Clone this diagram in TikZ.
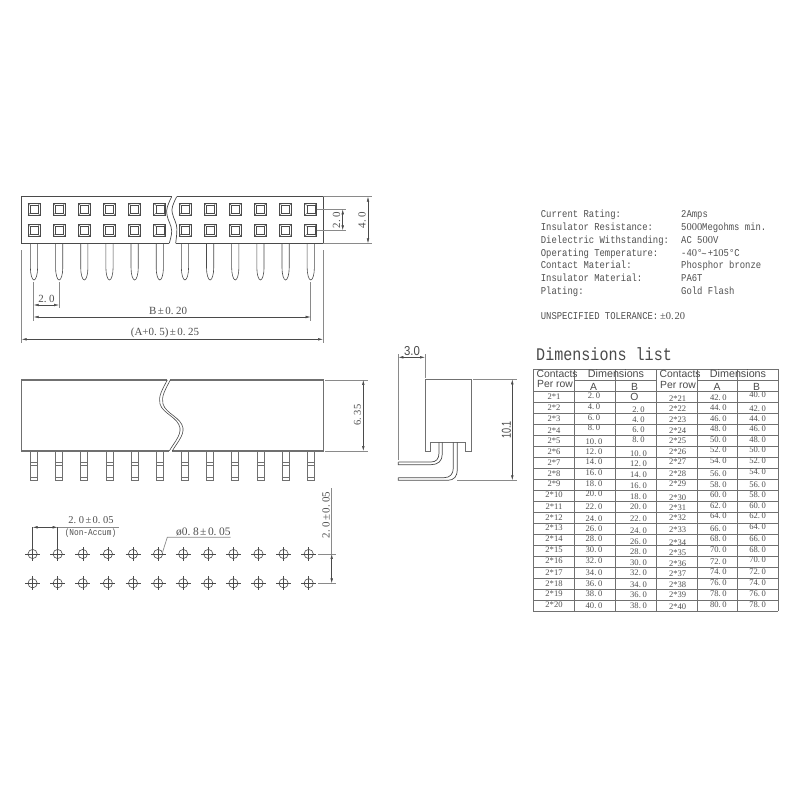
\documentclass[tikz,border=0pt]{standalone}
\usepackage{fontspec}
\usetikzlibrary{arrows.meta}
\newfontfamily\specfont[FakeStretch=0.85]{Liberation Mono}
\newfontfamily\numfont{Liberation Serif}
\newfontfamily\hdrfont{Liberation Sans}
\newfontfamily\narrowa[FakeStretch=0.88]{Liberation Sans}
\newfontfamily\narrowb[FakeStretch=0.7]{Liberation Sans}
\newcommand{\pmsign}{\kern1.5pt±\kern1.5pt}
\newcommand{\dotk}{.\kern2.5pt}
\newcommand{\zerok}{{\numfont 0}}
\def\cellnum#1.#2\relax{#1.\kern1.6pt #2}
\definecolor{ink}{HTML}{4A4A4A}
\definecolor{heavy}{HTML}{707070}
\definecolor{thin}{HTML}{8A8A8A}
\definecolor{txt}{HTML}{505050}
\tikzset{
  outline/.style={draw=ink,line width=0.7pt},
  bodyline/.style={draw=heavy,line width=1.2pt},
  extline/.style={draw=thin,line width=0.7pt},
  dimline/.style={draw=ink,line width=0.5pt,{Latex[length=5pt,width=2.6pt]}-{Latex[length=5pt,width=2.6pt]}},
  gridline/.style={draw=heavy,line width=0.9pt},
  lbl/.style={text=txt,inner sep=0pt,font=\numfont\fontsize{11}{11}\selectfont},
  spec/.style={text=txt,inner sep=0pt,anchor=base west,font=\specfont\fontsize{10.5}{11}\selectfont},
  cell/.style={text=txt,inner sep=0pt,font=\numfont\fontsize{8.6}{9}\selectfont},
  hdr/.style={text=ink,inner sep=0pt,font=\hdrfont\fontsize{10.4}{11}\selectfont},
}
\begin{document}
\begin{tikzpicture}[x=1bp,y=-1bp]
\useasboundingbox (0,0) rectangle (800,800);
\fill[white] (0,0) rectangle (800,800);
% ---------- top view
\draw[outline] (171.7,196.7) -- (21.7,196.7) -- (21.7,243.3) -- (169.3,243.3);
\draw[outline] (176.7,196.7) -- (323,196.7) -- (323,243.3) -- (175.7,243.3);
\draw[outline] (171.7,196.7) .. controls (168,204) and (165.5,210) .. (167,215) .. controls (168,221) and (171.5,225) .. (171.7,231) .. controls (171.7,236) and (170,240) .. (169.3,243.3);
\draw[outline] (176.7,196.7) .. controls (173,204) and (171,209) .. (172.3,213) .. controls (173.5,219) and (177,223) .. (176.9,229) .. controls (176.9,235) and (176,240) .. (175.7,243.3);
\foreach \i in {0,...,11}{
  \pgfmathsetmacro{\cx}{34+25.16*\i}
  \foreach \cy in {209.3,230.3}{
    \draw[outline,line width=0.8pt] (\cx-6,\cy-6) rectangle (\cx+6,\cy+6);
    \draw[ink,line width=0.5pt] (\cx-4,\cy-4) rectangle (\cx+4,\cy+4);
    \draw[ink,line width=0.4pt] (\cx-6,\cy-6) -- (\cx-4,\cy-4) (\cx+6,\cy-6) -- (\cx+4,\cy-4) (\cx-6,\cy+6) -- (\cx-4,\cy+4) (\cx+6,\cy+6) -- (\cx+4,\cy+4);
  }
  \draw[outline,line width=0.6pt] (\cx-3.6,243.3) -- (\cx-3.6,268) .. controls (\cx-3.6,274) and (\cx-2,280) .. (\cx,280) .. controls (\cx+2,280) and (\cx+3.6,274) .. (\cx+3.6,268) -- (\cx+3.6,243.3);
}
% dims of the top view
\draw[extline] (21.7,250) -- (21.7,343);
\draw[extline] (323,250) -- (323,343);
\draw[extline] (33.7,282) -- (33.7,321);
\draw[extline] (59,282) -- (59,308);
\draw[extline] (310.7,282) -- (310.7,321);
\draw[dimline] (21.7,339.3) -- (323,339.3);
\draw[dimline] (33.7,317) -- (310.7,317);
\draw[dimline] (33.7,305) -- (59,305);
\node[lbl] (t20) at (46.5,298.5) {2\dotk 0};
\node[lbl] (tB) at (168,311) {B\pmsign 0\dotk 20};
\node[lbl] (tA) at (165,332.5) {(A+0\dotk 5)\pmsign 0\dotk 25};
\draw[extline] (323,196.7) -- (372,196.7);
\draw[extline] (323,243.3) -- (372,243.3);
\draw[extline] (317,209.3) -- (346,209.3);
\draw[extline] (317,230.3) -- (346,230.3);
\draw[dimline] (368,196.7) -- (368,243.3);
\draw[dimline] (342.7,209.3) -- (342.7,230.3);
\node[lbl,rotate=90] (t40) at (362,220) {4\dotk 0};
\node[lbl,rotate=90] (t2v) at (336.5,220) {2\dotk 0};
% ---------- front view
\draw[bodyline] (167.3,380) -- (21.7,380) -- (21.7,451) -- (169.3,451);
\draw[bodyline] (170.3,380) -- (323.3,380) -- (323.3,451) -- (172.3,451);
\foreach \d in {0,3}{
  \draw[ink,line width=0.6pt] (167.3+\d,380) .. controls (162+\d,390) and (158+\d,397) .. (160+\d,404) .. controls (163+\d,414) and (178+\d,417) .. (180+\d,428) .. controls (181+\d,436) and (173+\d,444) .. (169.3+\d,451);
}
\foreach \i in {0,...,11}{
  \pgfmathsetmacro{\cx}{34+25.16*\i}
  \draw[heavy,line width=0.7pt] (\cx-3.5,451) rectangle (\cx+3.5,480.7);
  \draw[heavy,line width=0.6pt] (\cx-3.5,462.3) -- (\cx+3.5,462.3) (\cx-3.5,465) -- (\cx+3.5,465) (\cx-3.5,477.3) -- (\cx+3.5,477.3);
}
\draw[extline] (325,380) -- (368,380);
\draw[extline] (325,451) -- (368,451);
\draw[dimline] (363.3,380) -- (363.3,451);
\node[lbl,font=\numfont\fontsize{10.5}{11}\selectfont,rotate=90] (t635) at (357.5,415) {6\dotk 35};
% ---------- side view
\draw[bodyline,line width=1pt] (425,379.3) -- (471.7,379.3) -- (471.7,451.7) -- (465,451.7) -- (465,442.3) -- (430.7,442.3) -- (430.7,451.7) -- (425,451.7) -- cycle;
\draw[outline] (439,442.3) -- (439,453) .. controls (439,459) and (436,462) .. (431,462) -- (398.3,462);
\draw[outline] (442.3,442.3) -- (442.3,454) .. controls (442.3,461) and (438,464.7) .. (431,464.7) -- (398.3,464.7) -- (398.3,462);
\draw[outline] (453.3,442.3) -- (453.3,468) .. controls (453.3,474) and (450,477.7) .. (444,477.7) -- (398.3,477.7);
\draw[outline] (457.3,442.3) -- (457.3,470) .. controls (457.3,476) and (454,480.3) .. (448,480.3) -- (398.3,480.3) -- (398.3,477.7);
\draw[extline] (398.3,354) -- (398.3,460);
\draw[extline] (425,354) -- (425,378);
\draw[dimline] (398.3,357.3) -- (425,357.3);
\draw[extline] (473,379.3) -- (516.7,379.3);
\draw[extline] (457,480.3) -- (516.7,480.3);
\draw[dimline] (512.3,379.3) -- (512.3,480.3);
\node[hdr,text=ink,font=\narrowa\fontsize{13}{13}\selectfont] (t30) at (412,351.5) {3.0};
\node[hdr,text=ink,rotate=90,font=\narrowb\fontsize{13}{13}\selectfont] (t101) at (506.5,430) {10.1};
% ---------- hole pattern
\foreach \i in {0,...,11}{
  \pgfmathsetmacro{\cx}{32.6+25.1*\i}
  \foreach \cy in {554,583.3}{
    \draw[ink,line width=0.6pt] (\cx,\cy) circle (4.6);
    \draw[ink,line width=0.5pt] (\cx-7.5,\cy) -- (\cx+7.5,\cy) (\cx,\cy-7) -- (\cx,\cy+7);
  }
}
\draw[extline,draw=ink,line width=0.5pt] (32.6,527) -- (32.6,548);
\draw[extline,draw=ink,line width=0.5pt] (57.7,527) -- (57.7,548);
\draw[dimline] (32.6,527.3) -- (57.7,527.3);
\draw[extline] (57.7,527.3) -- (119.3,527.3);
\node[lbl,font=\numfont\fontsize{10.5}{11}\selectfont] (t2a) at (91,520) {2\dotk 0\pmsign 0\dotk 05};
\node[lbl,font=\specfont\fontsize{9.2}{9}\selectfont] (tna) at (90.5,533.5) {(Non-Accum)};
\draw[extline] (162.7,551.7) -- (167.3,537.3) -- (230.7,537.3);
\node[lbl,anchor=west,font=\numfont\fontsize{11.5}{11}\selectfont] (tphi) at (176,531.5) {ø0\dotk 8\pmsign 0\dotk 05};
\draw[extline] (318,554) -- (336,554);
\draw[extline] (318,583.3) -- (336,583.3);
\draw[extline] (331.7,488) -- (331.7,554);
\draw[dimline] (331.7,554) -- (331.7,583.3);
\node[lbl,rotate=90] (t2b) at (326,515) {2\dotk 0\pmsign 0\dotk 05};
% ---------- specification
\foreach \n/\yy/\a/\b in {1/217.5/Current Rating:/2Amps,
  2/230.5/Insulator Resistance:/5\zerok\zerok\zerok Megohms min.,
  3/243/Dielectric Withstanding:/AC 5\zerok\zerok V,
  4/256/Operating Temperature:/-4\zerok°\raisebox{-1.5pt}{\kern-1pt\textasciitilde}\kern1pt +1\zerok 5°C,
  5/268.5/Contact Material:/Phosphor bronze,
  6/281.5/Insulator Material:/PA6T,
  7/294/Plating:/Gold Flash}{
  \node[spec] (s\n) at (540.7,\yy) {\a};
  \node[spec] (v\n) at (681,\yy) {\b};
}
\node[spec] (s8) at (540.7,319.5) {UNSPECIFIED TOLERANCE:{\numfont\,±0.\kern1pt 20}};
\node[lbl,anchor=west,text=ink,font=\specfont\fontsize{17.8}{18}\selectfont] (title) at (536,354) {Dimensions list};
% ---------- table
\foreach \xx in {533.3,574.3,615.3,656,697,737.7,778.3}{
  \draw[gridline] (\xx,369.3) -- (\xx,611);
}
\draw[gridline] (533.3,369.3) -- (778.3,369.3);
\draw[gridline] (574.3,380) -- (656,380);
\draw[gridline] (697,380) -- (778.3,380);
\foreach \i in {0,...,20}{
  \pgfmathsetmacro{\yy}{391.7+10.965*\i}
  \draw[gridline] (533.3,\yy) -- (778.3,\yy);
}
\node[hdr,anchor=west] (h1) at (536.5,374.3) {Contacts};
\node[hdr,anchor=west] (h2) at (537,384.3) {Per row};
\node[hdr,font=\hdrfont\fontsize{10.8}{11}\selectfont] (h3) at (616,374) {Dimensions};
\node[hdr] (h4) at (593.5,386.5) {A};
\node[hdr] (h5) at (634.5,386.5) {B};
\node[hdr,anchor=west] (h6) at (659.5,374.3) {Contacts};
\node[hdr,anchor=west] (h7) at (660,384.8) {Per row};
\node[hdr,font=\hdrfont\fontsize{10.8}{11}\selectfont] (h8) at (738,374) {Dimensions};
\node[hdr] (h9) at (717,386.5) {A};
\node[hdr] (h10) at (756.5,386.5) {B};
\foreach \n/\yy in {1/396.7,2/407.3,3/418.3,4/430.7,5/441,6/451.7,7/462.3,8/473.3,9/484,10/495,11/506.3,12/517.3,13/528,14/538.3,15/549.7,16/561,17/572.3,18/583.3,19/594,20/605}{
  \node[cell] (ca\n) at (554,\yy) {2*\n};
}
\foreach \n/\yy in {2.0/395.7,4.0/406.7,6.0/417.3,8.0/428,10.0/441.3,12.0/451.7,14.0/462,16.0/472.7,18.0/484,20.0/494,22.0/506.7,24.0/518.3,26.0/528.3,28.0/538.3,30.0/549.7,32.0/560.3,34.0/572.3,36.0/583.7,38.0/594,40.0/605.3}{
  \node[cell] at (594,\yy) {\expandafter\cellnum\n\relax};
}
\node[hdr] (zero) at (634.5,396.7) {O};
\foreach \n/\yy in {2.0/409.3,4.0/419.3,6.0/430,8.0/440,10.0/454,12.0/464,14.0/474.7,16.0/485.7,18.0/496.7,20.0/507,22.0/518.3,24.0/530.7,26.0/541.3,28.0/552,30.0/562.3,32.0/572.3,34.0/584.3,36.0/594.3,38.0/605.3}{
  \node[cell] at (638.5,\yy) {\expandafter\cellnum\n\relax};
}
\foreach \n/\yy in {21/398.3,22/409,23/420,24/430.7,25/441,26/451.7,27/461.7,28/473.3,29/483.3,30/497.3,31/507.7,32/517.3,33/530,34/542.3,35/552.3,36/563.7,37/574,38/584.3,39/594.3,40/606.7}{
  \node[cell] (cb\n) at (677.7,\yy) {2*\n};
}
\foreach \n/\yy in {42.0/397.3,44.0/407.7,46.0/418.7,48.0/429,50.0/439.3,52.0/450,54.0/460.7,56.0/474,58.0/485,60.0/495,62.0/505.7,64.0/515.7,66.0/528.3,68.0/538.3,70.0/549.3,72.0/561.3,74.0/572,76.0/582.3,78.0/594,80.0/605}{
  \node[cell] at (718.3,\yy) {\expandafter\cellnum\n\relax};
}
\foreach \n/\yy in {40.0/395,42.0/408.3,44.0/418.7,46.0/429,48.0/439.3,50.0/450,52.0/460.7,54.0/471.3,56.0/485,58.0/495,60.0/505.7,62.0/515.7,64.0/526.7,66.0/538.3,68.0/549.3,70.0/560,72.0/572,74.0/582.3,76.0/593.3,78.0/604.3}{
  \node[cell] at (757.7,\yy) {\expandafter\cellnum\n\relax};
}
\end{tikzpicture}
\end{document}
